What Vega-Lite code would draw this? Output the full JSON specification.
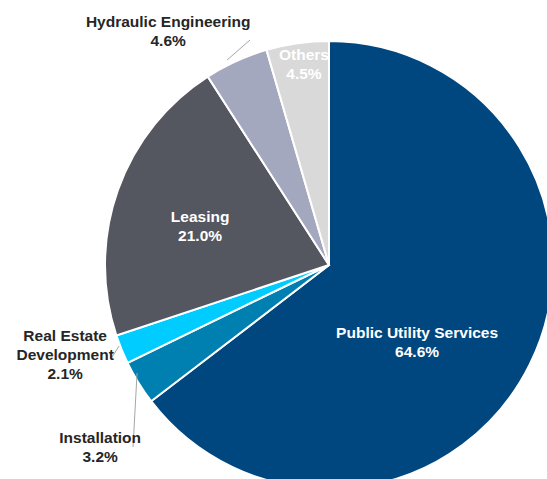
{
  "$schema": "https://vega.github.io/schema/vega-lite/v6.json",
  "width": 658,
  "height": 530,
  "padding": 0,
  "autosize": {"type": "none"},
  "background": "white",
  "config": {"view": {"stroke": null}},
  "datasets": {
    "slices": [
      {"segment": "Public Utility Services", "share": 64.6, "idx": 1},
      {"segment": "Installation", "share": 3.2, "idx": 2},
      {"segment": "Real Estate Development", "share": 2.1, "idx": 3},
      {"segment": "Leasing", "share": 21.0, "idx": 4},
      {"segment": "Hydraulic Engineering", "share": 4.6, "idx": 5},
      {"segment": "Others", "share": 4.5, "idx": 6}
    ],
    "labels": [
      {"label": "Public Utility Services\n64.6%", "angle": 127.7, "r": 0.497, "inside": true},
      {"label": "Installation\n3.2%", "angle": 232.9, "r": 1.281, "inside": false},
      {"label": "Real Estate\nDevelopment\n2.1%", "angle": 254.9, "r": 1.22, "inside": false},
      {"label": "Leasing\n21.0%", "angle": 290.4, "r": 0.614, "inside": true},
      {"label": "Hydraulic Engineering\n4.6%", "angle": 326.5, "r": 1.301, "inside": false},
      {"label": "Others\n4.5%", "angle": 353.2, "r": 0.944, "inside": true}
    ],
    "leaders": [
      {"segment": "Hydraulic Engineering", "x1": -0.453, "y1": 0.911, "x2": -0.351, "y2": 1.0},
      {"segment": "Real Estate Development", "x1": -0.964, "y1": -0.409, "x2": -0.933, "y2": -0.36},
      {"segment": "Installation", "x1": -0.853, "y1": -0.48, "x2": -0.871, "y2": -0.809}
    ]
  },
  "layer": [
    {
      "data": {"name": "slices"},
      "mark": {"type": "arc", "radius": 224, "stroke": "white", "strokeWidth": 2},
      "encoding": {
        "theta": {"field": "share", "type": "quantitative", "stack": true},
        "order": {"field": "idx", "type": "quantitative"},
        "color": {
          "field": "segment",
          "type": "nominal",
          "legend": null,
          "scale": {
            "domain": ["Public Utility Services", "Installation", "Real Estate Development", "Leasing", "Hydraulic Engineering", "Others"],
            "range": ["#00467F", "#0080B0", "#00CCFF", "#545660", "#A4A8BE", "#D9D9D9"]
          }
        }
      }
    },
    {
      "data": {"name": "leaders"},
      "mark": {"type": "rule", "color": "#A6A6A6", "strokeWidth": 1},
      "encoding": {
        "x": {"field": "x1", "type": "quantitative", "axis": null, "scale": {"domain": [-1.46222, 1.46222], "nice": false, "zero": false}},
        "y": {"field": "y1", "type": "quantitative", "axis": null, "scale": {"domain": [-1.17778, 1.17778], "nice": false, "zero": false}},
        "x2": {"field": "x2"},
        "y2": {"field": "y2"}
      }
    },
    {
      "data": {"name": "labels"},
      "mark": {"type": "text", "font": "Liberation Sans", "fontWeight": "bold", "fontSize": 15.5, "lineHeight": 19, "lineBreak": "\n", "align": "center", "baseline": "middle"},
      "encoding": {
        "theta": {"field": "angle", "type": "quantitative", "stack": null, "scale": {"type": "linear", "domain": [0, 360], "range": [0, 6.283185307]}},
        "radius": {"field": "r", "type": "quantitative", "scale": {"type": "linear", "domain": [0, 1], "range": [0, 224], "zero": true}},
        "text": {"field": "label", "type": "nominal"},
        "color": {"condition": {"test": "datum.inside", "value": "white"}, "value": "#262626"}
      }
    }
  ],
  "resolve": {"scale": {"theta": "independent", "radius": "independent"}}
}
